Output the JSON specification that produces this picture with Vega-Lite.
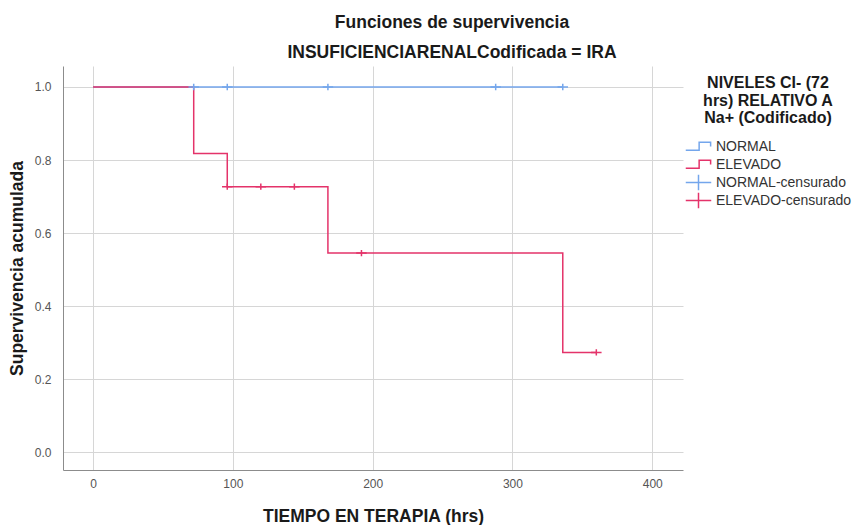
{
  "$schema": "https://vega.github.io/schema/vega-lite/v6.json",
  "width": 620,
  "height": 404,
  "autosize": {"type": "none"},
  "padding": {"left": 63, "top": 66, "right": 176, "bottom": 55},
  "background": "white",
  "config": {
    "font": "Liberation Sans",
    "view": {"stroke": null},
    "axis": {
      "gridColor": "#d6d6d6",
      "gridWidth": 1,
      "domainColor": "#8c8c8c",
      "domainWidth": 1,
      "ticks": false,
      "labelFont": "Liberation Sans",
      "labelFontSize": 12,
      "labelColor": "#555555",
      "titleFont": "Liberation Sans",
      "titleFontSize": 17.5,
      "titleFontWeight": "bold",
      "titleColor": "#1a1a1a"
    },
    "legend": {
      "titleFont": "Liberation Sans",
      "titleFontSize": 16,
      "titleFontWeight": "bold",
      "titleColor": "#1a1a1a",
      "titleLineHeight": 17.5,
      "titlePadding": 12,
      "titleAnchor": "middle",
      "titleAlign": "center",
      "labelFont": "Liberation Sans",
      "labelFontSize": 14,
      "labelColor": "#333333",
      "labelOffset": 4,
      "labelLimit": 200,
      "symbolSize": 650,
      "symbolStrokeWidth": 1.5,
      "symbolFillColor": "transparent",
      "clipHeight": 17,
      "rowPadding": 1
    }
  },
  "title": {
    "text": "Funciones de supervivencia",
    "subtitle": "INSUFICIENCIARENALCodificada = IRA",
    "anchor": "middle",
    "dx": 79,
    "offset": 5,
    "font": "Liberation Sans",
    "fontSize": 17.5,
    "fontWeight": "bold",
    "color": "#1a1a1a",
    "subtitleFont": "Liberation Sans",
    "subtitleFontSize": 17.5,
    "subtitleFontWeight": "bold",
    "subtitleColor": "#1a1a1a",
    "subtitlePadding": 12
  },
  "datasets": {
    "curves": [
      {"tiempo": 0, "supervivencia": 1.0, "serie": "NORMAL"},
      {"tiempo": 336, "supervivencia": 1.0, "serie": "NORMAL"},
      {"tiempo": 0, "supervivencia": 1.0, "serie": "ELEVADO"},
      {"tiempo": 72, "supervivencia": 0.818, "serie": "ELEVADO"},
      {"tiempo": 96, "supervivencia": 0.727, "serie": "ELEVADO"},
      {"tiempo": 168, "supervivencia": 0.545, "serie": "ELEVADO"},
      {"tiempo": 336, "supervivencia": 0.273, "serie": "ELEVADO"},
      {"tiempo": 360, "supervivencia": 0.273, "serie": "ELEVADO"}
    ],
    "censored": [
      {"tiempo": 72, "supervivencia": 1.0, "serie": "NORMAL-censurado"},
      {"tiempo": 96, "supervivencia": 1.0, "serie": "NORMAL-censurado"},
      {"tiempo": 168, "supervivencia": 1.0, "serie": "NORMAL-censurado"},
      {"tiempo": 288, "supervivencia": 1.0, "serie": "NORMAL-censurado"},
      {"tiempo": 336, "supervivencia": 1.0, "serie": "NORMAL-censurado"},
      {"tiempo": 96, "supervivencia": 0.727, "serie": "ELEVADO-censurado"},
      {"tiempo": 120, "supervivencia": 0.727, "serie": "ELEVADO-censurado"},
      {"tiempo": 144, "supervivencia": 0.727, "serie": "ELEVADO-censurado"},
      {"tiempo": 192, "supervivencia": 0.545, "serie": "ELEVADO-censurado"},
      {"tiempo": 360, "supervivencia": 0.273, "serie": "ELEVADO-censurado"}
    ]
  },
  "encoding": {
    "x": {
      "field": "tiempo",
      "type": "quantitative",
      "scale": {"domain": [-21.5, 422], "nice": false, "zero": false},
      "axis": {"values": [0, 100, 200, 300, 400], "title": "TIEMPO EN TERAPIA (hrs)", "labelPadding": 8, "titlePadding": 18}
    },
    "y": {
      "field": "supervivencia",
      "type": "quantitative",
      "scale": {"domain": [-0.049, 1.0575], "nice": false, "zero": false},
      "axis": {"values": [0, 0.2, 0.4, 0.6, 0.8, 1.0], "format": ".1f", "title": "Supervivencia acumulada", "labelPadding": 12, "titlePadding": 8}
    }
  },
  "layer": [
    {
      "data": {"name": "curves"},
      "mark": {"type": "line", "interpolate": "step-after", "strokeWidth": 1.5},
      "encoding": {
        "color": {
          "field": "serie",
          "type": "nominal",
          "scale": {
            "domain": ["NORMAL", "ELEVADO", "NORMAL-censurado", "ELEVADO-censurado"],
            "range": ["#74a6ec", "#e4336a", "#74a6ec", "#e4336a"]
          },
          "legend": {
            "title": ["NIVELES CI- (72", "hrs) RELATIVO A", "Na+ (Codificado)"],
            "orient": "none",
            "legendX": 622,
            "legendY": 9,
            "encode": {"symbols": {"update": {"size": {"value": 650}, "strokeWidth": {"value": 1.5}}}}
          }
        }
      }
    },
    {
      "data": {"name": "censored"},
      "mark": {"type": "point", "filled": false, "size": 110, "strokeWidth": 1.5, "opacity": 1},
      "encoding": {
        "color": {
          "field": "serie",
          "type": "nominal",
          "scale": {
            "domain": ["NORMAL", "ELEVADO", "NORMAL-censurado", "ELEVADO-censurado"],
            "range": ["#74a6ec", "#e4336a", "#74a6ec", "#e4336a"]
          },
          "legend": {
            "title": ["NIVELES CI- (72", "hrs) RELATIVO A", "Na+ (Codificado)"],
            "orient": "none",
            "legendX": 622,
            "legendY": 9,
            "encode": {"symbols": {"update": {"size": {"value": 650}, "strokeWidth": {"value": 1.5}}}}
          }
        },
        "shape": {
          "field": "serie",
          "type": "nominal",
          "scale": {
            "domain": ["NORMAL", "ELEVADO", "NORMAL-censurado", "ELEVADO-censurado"],
            "range": [
              "M-1,0.3L0.05,0.3L0.05,-0.33L0.95,-0.33L0.95,0",
              "M-1,0.3L0.05,0.3L0.05,-0.33L0.95,-0.33L0.95,0",
              "M-1,0L1,0M0,-0.6L0,0.6",
              "M-1,0L1,0M0,-0.6L0,0.6"
            ]
          },
          "legend": {
            "title": ["NIVELES CI- (72", "hrs) RELATIVO A", "Na+ (Codificado)"],
            "orient": "none",
            "legendX": 622,
            "legendY": 9,
            "encode": {"symbols": {"update": {"size": {"value": 650}, "strokeWidth": {"value": 1.5}}}}
          }
        }
      }
    }
  ]
}
